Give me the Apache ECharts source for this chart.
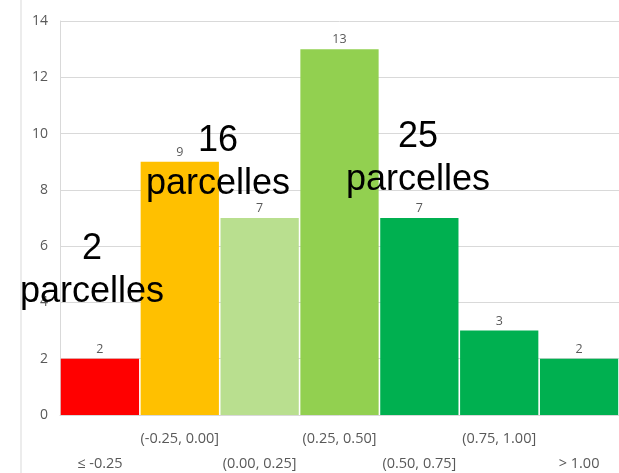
<!DOCTYPE html>
<html>
<head>
<meta charset="utf-8">
<script src="https://cdn.jsdelivr.net/npm/echarts@6/dist/echarts.min.js"></script>
<style>
  html, body { margin: 0; padding: 0; background: #fff; }
  #main { width: 619px; height: 473px; }
</style>
</head>
<body>
<div id="main"></div>
<script>
  // classes de l'histogramme
  var categories = ['≤ -0.25', '(-0.25, 0.00]', '(0.00, 0.25]', '(0.25, 0.50]', '(0.50, 0.75]', '(0.75, 1.00]', '> 1.00'];
  var counts = [2, 9, 7, 13, 7, 3, 2];
  var barColors = ['#ff0000', '#ffc000', '#b9df8f', '#92d050', '#00b050', '#00b050', '#00b050'];
  var yTicks = [0, 2, 4, 6, 8, 10, 12, 14];
  var notes = ['2\nparcelles', '16\nparcelles', '25\nparcelles'];

  var myChart = echarts.init(document.getElementById('main'));
  var noteFont = '36px "Liberation Sans"';
  var option = {
    animation: false,
    grid: { left: 60, right: 0, top: 21, bottom: 58, outerBoundsMode: 'none' },
    xAxis: {
      type: 'category',
      data: categories,
      axisLine: { show: true, lineStyle: { color: '#d9d9d9' } },
      axisTick: { show: false },
      axisLabel: {
        interval: 0,
        margin: 11,
        color: '#595959',
        fontSize: 14.5,
        fontFamily: 'Open Sans',
        lineHeight: 25,
        formatter: function (v, i) { return i % 2 ? v : '\n' + v; }
      }
    },
    yAxis: {
      type: 'value',
      min: yTicks[0],
      max: yTicks[yTicks.length - 1],
      interval: 2,
      axisLine: { show: true, lineStyle: { color: '#d9d9d9' } },
      axisTick: { show: false },
      axisLabel: { color: '#595959', fontSize: 14, fontFamily: 'Open Sans', margin: 12 },
      splitLine: { lineStyle: { color: '#d9d9d9' } }
    },
    series: [{
      type: 'bar',
      barCategoryGap: '2%',
      data: counts.map(function (v, i) {
        return { value: v, itemStyle: { color: barColors[i] } };
      }),
      label: {
        show: true,
        position: 'top',
        distance: 3,
        color: '#595959',
        fontSize: 12.5,
        fontFamily: 'Open Sans'
      }
    }],
    graphic: [
      { type: 'line', shape: { x1: 21, y1: 0, x2: 21, y2: 473 }, style: { stroke: '#d9d9d9', lineWidth: 1 } },
      { type: 'text', z: 100, x: 92, y: 228, style: { text: notes[0], fill: '#000', font: noteFont, align: 'center', lineHeight: 43 } },
      { type: 'text', z: 100, x: 218, y: 120, style: { text: notes[1], fill: '#000', font: noteFont, align: 'center', lineHeight: 43 } },
      { type: 'text', z: 100, x: 418, y: 116, style: { text: notes[2], fill: '#000', font: noteFont, align: 'center', lineHeight: 43 } }
    ]
  };
  myChart.setOption(option);
</script>
</body>
</html>
